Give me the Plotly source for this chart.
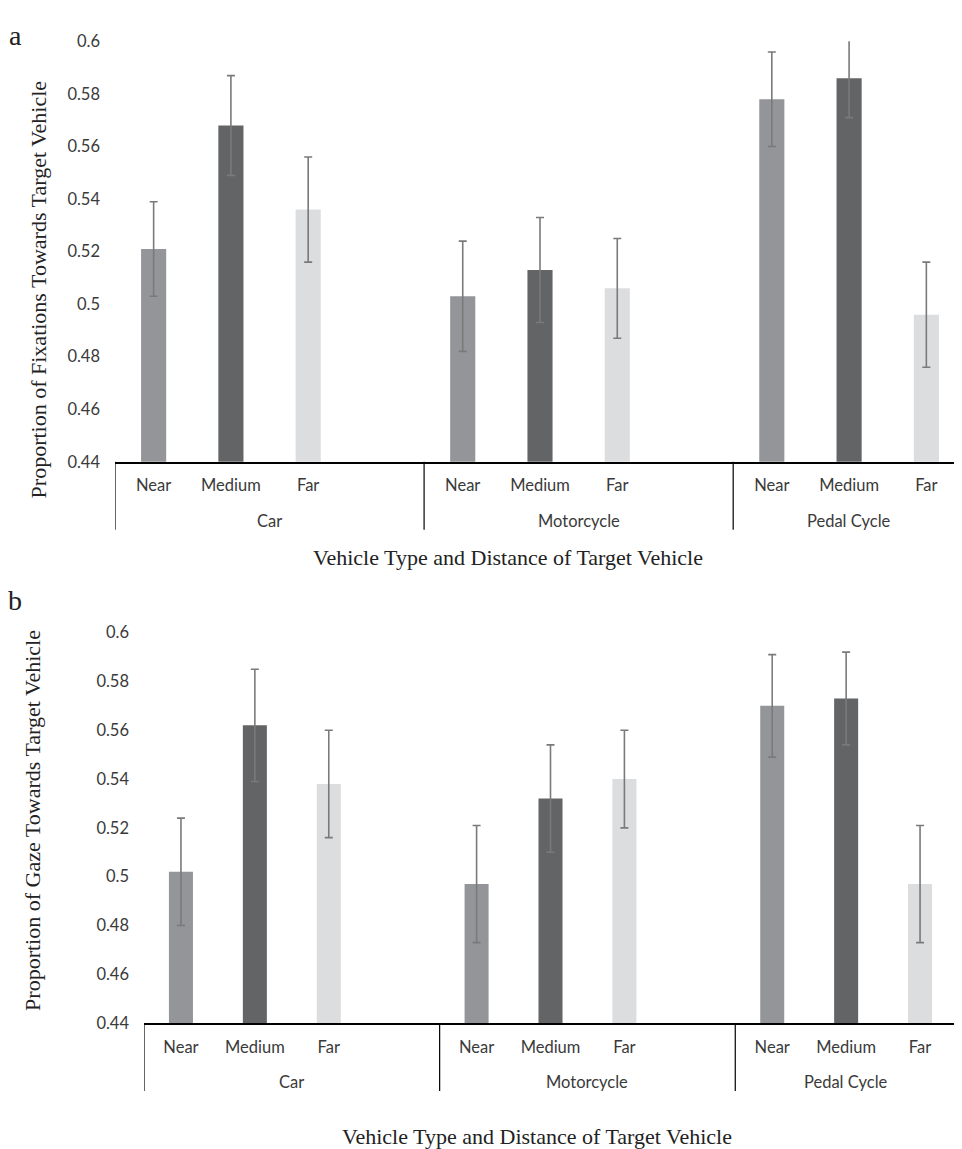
import plotly.graph_objects as go

# ---------------- data ----------------
groups = ["Car", "Motorcycle", "Pedal Cycle"]
distances = ["Near", "Medium", "Far"]
# slots per group (Car & Motorcycle have an empty 4th slot as in the source chart)
group_slots = [4, 4, 3]

fix_mean = {
    "Near":   [0.521, 0.503, 0.578],
    "Medium": [0.568, 0.513, 0.586],
    "Far":    [0.536, 0.506, 0.496],
}
fix_err = {
    "Near":   [0.018, 0.021, 0.018],
    "Medium": [0.019, 0.020, 0.015],
    "Far":    [0.020, 0.019, 0.020],
}
gaze_mean = {
    "Near":   [0.502, 0.497, 0.570],
    "Medium": [0.562, 0.532, 0.573],
    "Far":    [0.538, 0.540, 0.497],
}
gaze_err = {
    "Near":   [0.022, 0.024, 0.021],
    "Medium": [0.023, 0.022, 0.019],
    "Far":    [0.022, 0.020, 0.024],
}
y_ticks = [0.44, 0.46, 0.48, 0.50, 0.52, 0.54, 0.56, 0.58, 0.60]
y_ticktext = ["0.44", "0.46", "0.48", "0.5", "0.52", "0.54", "0.56", "0.58", "0.6"]

colors = {"Near": "#939598", "Medium": "#636466", "Far": "#dcdddf"}

# ---------------- geometry ----------------
W, H = 962, 1149
# page offset / scale compensation (measured on the rendered page)
OX, OY, SY = 8.0, 18.3, 0.9836


def fx(t):
    return (t - OX) / W


def fy(t):
    return 1 - ((t - OY) / SY) / H


def py(d):
    return d / SY


starts = []
s = 0
for n in group_slots:
    starts.append(s)
    s += n
n_slots = s
bounds = [st - 0.5 for st in starts] + [n_slots - 0.5]

panels = [
    dict(mean=fix_mean, err=fix_err, x0=115, x1=965, ytop=41.5, ybot=462.5,
         ytitle="Proportion of Fixations Towards Target Vehicle", ytitle_xy=(38, 290),
         xtitle_xy=(508, 558), letter="a", letter_xy=(15, None), xa="x", ya="y"),
    dict(mean=gaze_mean, err=gaze_err, x0=144, x1=957, ytop=633.3, ybot=1024.5,
         ytitle="Proportion of Gaze Towards Target Vehicle", ytitle_xy=(33, 822),
         xtitle_xy=(537, 1138), letter="b", letter_xy=(15, 601), xa="x2", ya="y2"),
]

fig = go.Figure()
annotations = []
shapes = []
layout_axes = {}

tick_font = dict(family="Lato, Carlito, sans-serif", size=16.5, color="#3a3a3a")
serif = "Liberation Serif, Times New Roman, serif"
title_font = dict(family=serif, size=22, color="#222")

for i, p in enumerate(panels):
    for d in distances:
        xs = [starts[g] + distances.index(d) for g in range(len(groups))]
        fig.add_trace(go.Bar(
            x=xs, y=p["mean"][d], width=0.325,
            marker=dict(color=colors[d], line=dict(width=0)),
            error_y=dict(type="data", array=p["err"][d], visible=True,
                         color="#7a7a7a", thickness=1.6, width=4),
            xaxis=p["xa"], yaxis=p["ya"], name=d, showlegend=False,
        ))
    xd = [fx(p["x0"]), min(1.0, fx(p["x1"]))]
    yd = [fy(p["ybot"]), fy(p["ytop"])]
    suffix = "" if i == 0 else "2"
    tickvals = [starts[g] + k for g in range(len(groups)) for k in range(len(distances))]
    ticktext = [distances[k] for g in range(len(groups)) for k in range(len(distances))]
    layout_axes["xaxis" + suffix] = dict(
        domain=xd, range=[-0.5, n_slots - 0.5], anchor="y" + suffix,
        tickvals=tickvals, ticktext=ticktext, ticks="", tickfont=tick_font,
        ticklabelstandoff=8, showgrid=False, zeroline=False,
        showline=True, linecolor="black", linewidth=1.5,
    )
    layout_axes["yaxis" + suffix] = dict(
        domain=yd, range=[y_ticks[0], y_ticks[-1] + 0.0001], anchor="x" + suffix,
        tickvals=y_ticks, ticktext=y_ticktext, ticks="", tickfont=tick_font,
        ticklabelstandoff=14, showgrid=False, zeroline=False, showline=False,
    )
    # separators of the grouped category axis
    ybot_paper = yd[0]
    ydrop = ybot_paper - py(68) / H
    for b in bounds:
        shapes.append(dict(type="line", xref=p["xa"], yref="paper",
                           x0=b, x1=b, y0=ybot_paper, y1=ydrop,
                           line=dict(color="black", width=1.2)))
    for g, name in enumerate(groups):
        cx = starts[g] + (group_slots[g] - 1) / 2
        annotations.append(dict(text=name, xref=p["xa"], yref="paper", x=cx,
                                y=ybot_paper, yshift=-py(58), showarrow=False,
                                xanchor="center", yanchor="middle", font=tick_font))
    annotations.append(dict(text=p["ytitle"], xref="paper", yref="paper",
                            x=fx(p["ytitle_xy"][0]), y=fy(p["ytitle_xy"][1]), textangle=-90,
                            showarrow=False, xanchor="center", yanchor="middle",
                            font=title_font))
    annotations.append(dict(text="Vehicle Type and Distance of Target Vehicle",
                            xref="paper", yref="paper",
                            x=fx(p["xtitle_xy"][0]), y=fy(p["xtitle_xy"][1]),
                            showarrow=False, xanchor="center", yanchor="middle",
                            font=title_font))
    lx, ly = p["letter_xy"]
    if ly is None:
        # top-most panel letter: pin to the top edge so it is not clipped
        annotations.append(dict(text=p["letter"], xref="paper", yref="paper",
                                x=fx(lx), y=1, yshift=-1, borderpad=0,
                                showarrow=False, xanchor="center", yanchor="top",
                                font=dict(family=serif, size=28, color="#222")))
    else:
        annotations.append(dict(text=p["letter"], xref="paper", yref="paper",
                                x=fx(lx), y=fy(ly),
                                showarrow=False, xanchor="center", yanchor="middle",
                                font=dict(family=serif, size=28, color="#222")))

fig.update_layout(
    width=W, height=H, margin=dict(l=0, r=0, t=0, b=0),
    paper_bgcolor="white", plot_bgcolor="white",
    barmode="overlay", showlegend=False,
    annotations=annotations, shapes=shapes, **layout_axes,
)
fig.write_html("out.html")
